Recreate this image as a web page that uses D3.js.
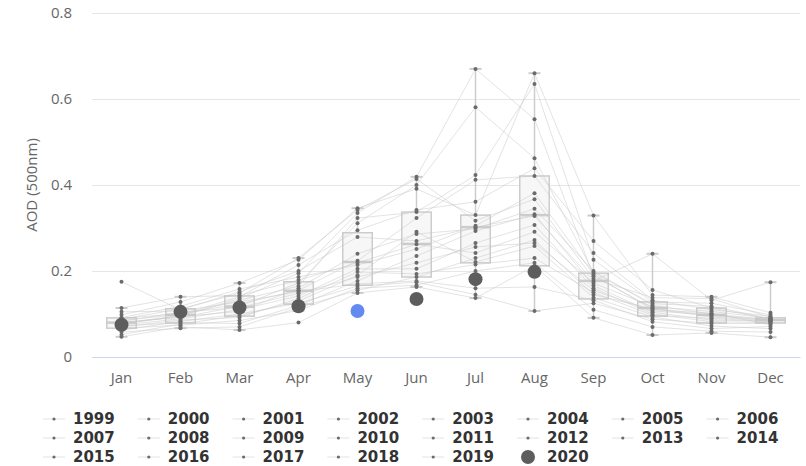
<!DOCTYPE html>
<html>
<head>
<meta charset="utf-8">
<script src="https://cdn.jsdelivr.net/npm/d3@7"></script>
<style>
  body { margin: 0; background: #fff; }
  svg { display: block; }
</style>
</head>
<body>
<div id="chart"></div>
<script>
// Data
const months = ['Jan', 'Feb', 'Mar', 'Apr', 'May', 'Jun', 'Jul', 'Aug', 'Sep', 'Oct', 'Nov', 'Dec']
const yTicks = [0, 0.2, 0.4, 0.6, 0.8]

// box plot stats per month (1999-2019)
const boxLow    = [0.047, 0.067, 0.063, 0.108, 0.149, 0.163, 0.137, 0.107, 0.091, 0.051, 0.056, 0.046]
const boxQ1     = [0.067, 0.079, 0.095, 0.123, 0.167, 0.186, 0.219, 0.212, 0.135, 0.095, 0.079, 0.079]
const boxMedian = [0.080, 0.098, 0.117, 0.154, 0.221, 0.263, 0.302, 0.330, 0.177, 0.114, 0.098, 0.086]
const boxQ3     = [0.091, 0.112, 0.142, 0.175, 0.289, 0.337, 0.330, 0.421, 0.195, 0.128, 0.114, 0.091]
const boxHigh   = [0.114, 0.140, 0.172, 0.230, 0.346, 0.419, 0.670, 0.660, 0.329, 0.240, 0.140, 0.174]

// monthly AOD per year
const aod1999 = [0.090, 0.101, 0.123, 0.155, 0.224, 0.323, 0.412, 0.421, 0.242, 0.132, 0.110, 0.095]
const aod2000 = [0.076, 0.096, 0.136, 0.195, 0.335, 0.419, 0.670, 0.553, 0.188, 0.114, 0.096, 0.085]
const aod2001 = [0.175, 0.110, 0.152, 0.200, 0.279, 0.270, 0.302, 0.328, 0.177, 0.240, 0.132, 0.174]
const aod2002 = [0.083, 0.104, 0.115, 0.148, 0.186, 0.219, 0.256, 0.265, 0.155, 0.107, 0.098, 0.086]
const aod2003 = [0.062, 0.083, 0.100, 0.125, 0.165, 0.174, 0.145, 0.107, 0.125, 0.088, 0.078, 0.078]
const aod2004 = [0.098, 0.128, 0.172, 0.226, 0.346, 0.391, 0.330, 0.660, 0.329, 0.144, 0.140, 0.103]
const aod2005 = [0.072, 0.080, 0.078, 0.120, 0.177, 0.235, 0.293, 0.332, 0.166, 0.104, 0.086, 0.083]
const aod2006 = [0.081, 0.092, 0.118, 0.172, 0.311, 0.400, 0.581, 0.462, 0.196, 0.124, 0.118, 0.089]
const aod2007 = [0.047, 0.070, 0.063, 0.080, 0.149, 0.163, 0.137, 0.212, 0.091, 0.051, 0.056, 0.046]
const aod2008 = [0.114, 0.140, 0.143, 0.179, 0.219, 0.262, 0.242, 0.291, 0.172, 0.117, 0.106, 0.090]
const aod2009 = [0.078, 0.097, 0.132, 0.165, 0.323, 0.337, 0.423, 0.635, 0.226, 0.128, 0.125, 0.098]
const aod2010 = [0.088, 0.112, 0.148, 0.230, 0.342, 0.414, 0.317, 0.367, 0.182, 0.138, 0.136, 0.092]
const aod2011 = [0.070, 0.086, 0.092, 0.136, 0.198, 0.193, 0.215, 0.230, 0.150, 0.097, 0.090, 0.082]
const aod2012 = [0.105, 0.107, 0.128, 0.152, 0.170, 0.177, 0.160, 0.163, 0.132, 0.082, 0.066, 0.071]
const aod2013 = [0.058, 0.067, 0.070, 0.115, 0.155, 0.186, 0.230, 0.272, 0.145, 0.112, 0.093, 0.084]
const aod2014 = [0.079, 0.094, 0.106, 0.160, 0.240, 0.286, 0.298, 0.345, 0.200, 0.120, 0.100, 0.087]
const aod2015 = [0.085, 0.099, 0.140, 0.214, 0.295, 0.342, 0.361, 0.439, 0.270, 0.156, 0.114, 0.088]
const aod2016 = [0.074, 0.089, 0.110, 0.142, 0.205, 0.205, 0.265, 0.307, 0.160, 0.100, 0.082, 0.080]
const aod2017 = [0.092, 0.118, 0.158, 0.186, 0.214, 0.251, 0.305, 0.381, 0.192, 0.110, 0.102, 0.075]
const aod2018 = [0.052, 0.077, 0.096, 0.130, 0.190, 0.291, 0.221, 0.258, 0.138, 0.093, 0.072, 0.066]
const aod2019 = [0.067, 0.074, 0.085, 0.108, 0.160, 0.167, 0.200, 0.219, 0.110, 0.070, 0.060, 0.058]
const aod2020 = [0.075, 0.105, 0.115, 0.118, 0.107, 0.135, 0.181, 0.198]

const pastSeries = [
  { name: '1999', values: aod1999 }, { name: '2000', values: aod2000 },
  { name: '2001', values: aod2001 }, { name: '2002', values: aod2002 },
  { name: '2003', values: aod2003 }, { name: '2004', values: aod2004 },
  { name: '2005', values: aod2005 }, { name: '2006', values: aod2006 },
  { name: '2007', values: aod2007 }, { name: '2008', values: aod2008 },
  { name: '2009', values: aod2009 }, { name: '2010', values: aod2010 },
  { name: '2011', values: aod2011 }, { name: '2012', values: aod2012 },
  { name: '2013', values: aod2013 }, { name: '2014', values: aod2014 },
  { name: '2015', values: aod2015 }, { name: '2016', values: aod2016 },
  { name: '2017', values: aod2017 }, { name: '2018', values: aod2018 },
  { name: '2019', values: aod2019 },
]
const highlightMonth = 'May' // hovered point of 2020

function draw() {
  // Dimensions
  const dimensions = {
    width: 806,
    height: 466,
    left: 92,
    right: 6,
    top: 13,
    bottom: 109,
  }
  dimensions.ctrWidth = dimensions.width - dimensions.left - dimensions.right
  dimensions.ctrHeight = dimensions.height - dimensions.top - dimensions.bottom

  const font = '"Open Sans", sans-serif'

  const svg = d3.select('#chart')
    .append('svg')
    .attr('width', dimensions.width)
    .attr('height', dimensions.height)
    .style('font-family', font)

  const ctr = svg.append('g')
    .attr('transform', `translate(${dimensions.left}, ${dimensions.top})`)

  // Scales
  const xScale = d3.scaleBand()
    .domain(months)
    .range([0, dimensions.ctrWidth])

  const yScale = d3.scaleLinear()
    .domain([0, 0.8])
    .range([dimensions.ctrHeight, 0])

  const cx = m => xScale(m) + xScale.bandwidth() / 2

  // Grid + y axis
  const yAxis = d3.axisLeft(yScale)
    .tickValues(yTicks)
    .tickFormat(d => d === 0 ? '0' : d3.format('.1f')(d))
    .tickSize(-dimensions.ctrWidth)
    .tickPadding(20)

  const yAxisG = ctr.append('g').call(yAxis)
  yAxisG.select('.domain').remove()
  yAxisG.selectAll('line').attr('stroke', '#e6e6e6')
  yAxisG.selectAll('text')
    .attr('fill', '#666')
    .style('font-family', font)
    .style('font-size', '15px')

  // x axis
  const xAxis = d3.axisBottom(xScale)
    .tickSize(0)
    .tickSizeOuter(0)
    .tickPadding(15)

  const xAxisG = ctr.append('g')
    .attr('transform', `translate(0, ${dimensions.ctrHeight})`)
    .call(xAxis)
  xAxisG.select('.domain').attr('stroke', '#ccd6eb')
  xAxisG.selectAll('text')
    .attr('fill', '#666')
    .style('font-family', font)
    .style('font-size', '15px')

  // Axis title
  svg.append('text')
    .attr('transform', `translate(32, ${dimensions.top + dimensions.ctrHeight / 2}) rotate(-90)`)
    .attr('text-anchor', 'middle')
    .attr('dy', '0.35em')
    .attr('fill', '#666')
    .style('font-size', '15px')
    .text('AOD (500nm)')

  // Box plots
  const boxData = months.map((m, i) => ({
    month: m, low: boxLow[i], q1: boxQ1[i], median: boxMedian[i], q3: boxQ3[i], high: boxHigh[i]
  }))
  const boxWidth = xScale.bandwidth() * 0.5
  const capWidth = 12

  const boxes = ctr.append('g')
    .classed('boxes', true)
    .selectAll('g')
    .data(boxData)
    .join('g')
    .attr('stroke', '#cccccc')

  boxes.append('line')
    .attr('x1', d => cx(d.month))
    .attr('x2', d => cx(d.month))
    .attr('y1', d => yScale(d.low))
    .attr('y2', d => yScale(d.high))
    .attr('stroke-width', 1.5)

  boxes.append('rect')
    .attr('x', d => cx(d.month) - boxWidth / 2)
    .attr('y', d => yScale(d.q3))
    .attr('width', boxWidth)
    .attr('height', d => yScale(d.q1) - yScale(d.q3))
    .attr('fill', '#f7f7f7')
    .attr('stroke-width', 1.5)

  boxes.selectAll('.cap')
    .data(d => [d.low, d.high].map(v => ({ month: d.month, v })))
    .join('line')
    .classed('cap', true)
    .attr('x1', d => cx(d.month) - capWidth / 2)
    .attr('x2', d => cx(d.month) + capWidth / 2)
    .attr('y1', d => yScale(d.v))
    .attr('y2', d => yScale(d.v))
    .attr('stroke-width', 2)

  boxes.append('line')
    .attr('x1', d => cx(d.month) - boxWidth / 2)
    .attr('x2', d => cx(d.month) + boxWidth / 2)
    .attr('y1', d => yScale(d.median))
    .attr('y2', d => yScale(d.median))
    .attr('stroke-width', 2.5)

  // Year lines
  const lineGen = d3.line()
    .x((d, i) => cx(months[i]))
    .y(d => yScale(d))

  ctr.append('g')
    .classed('year-lines', true)
    .selectAll('path')
    .data(pastSeries)
    .join('path')
    .attr('d', d => lineGen(d.values))
    .attr('fill', 'none')
    .attr('stroke', '#c8c8c8')
    .attr('stroke-opacity', 0.5)
    .attr('stroke-width', 1)

  // Year points
  ctr.append('g')
    .classed('year-points', true)
    .selectAll('g')
    .data(pastSeries)
    .join('g')
    .selectAll('circle')
    .data(d => d.values.map((v, i) => ({ month: months[i], v })))
    .join('circle')
    .attr('cx', d => cx(d.month))
    .attr('cy', d => yScale(d.v))
    .attr('r', 2)
    .attr('fill', '#6b6b6b')

  // 2020
  ctr.append('g')
    .classed('current-year', true)
    .selectAll('circle')
    .data(aod2020.map((v, i) => ({ month: months[i], v })))
    .join('circle')
    .attr('cx', d => cx(d.month))
    .attr('cy', d => yScale(d.v))
    .attr('r', 7)
    .attr('fill', d => d.month === highlightMonth ? '#628af0' : '#5d5d5d')

  // Legend
  const legendItems = pastSeries.map(s => s.name).concat(['2020'])
  const legend = svg.append('g')
    .classed('legend', true)
    .selectAll('g')
    .data(legendItems)
    .join('g')
    .attr('transform', (d, i) => `translate(${43 + (i % 8) * 94.8}, ${419 + Math.floor(i / 8) * 19})`)

  legend.filter(d => d !== '2020')
    .append('line')
    .attr('x1', 0)
    .attr('x2', 22)
    .attr('stroke', '#c8c8c8')
    .attr('stroke-opacity', 0.5)

  legend.append('circle')
    .attr('cx', 11)
    .attr('r', d => d === '2020' ? 7 : 1.6)
    .attr('fill', d => d === '2020' ? '#5d5d5d' : '#6b6b6b')

  legend.append('text')
    .attr('x', 30)
    .attr('dy', '0.36em')
    .attr('fill', '#333')
    .style('font-family', '"DejaVu Sans", sans-serif')
    .style('font-weight', 'bold')
    .style('font-size', '15px')
    .text(d => d)
}

draw()
</script>
</body>
</html>
